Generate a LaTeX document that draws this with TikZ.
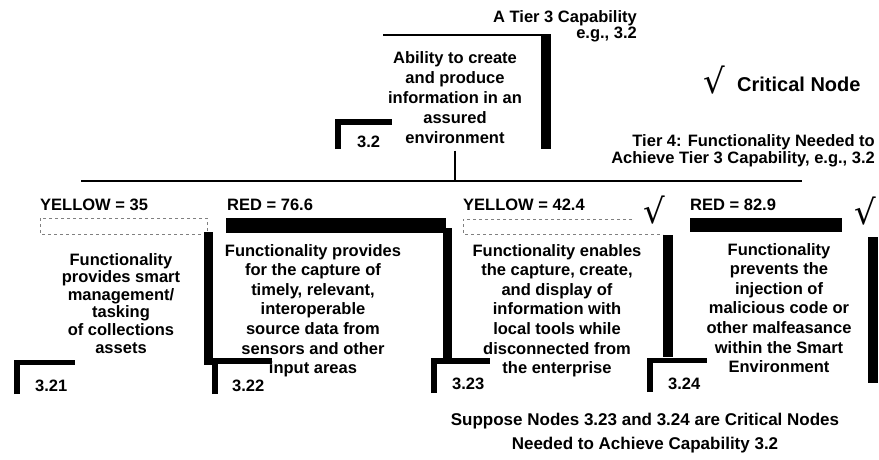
\documentclass[tikz,border=0pt]{standalone}
\usepackage{fontspec}
\setmainfont{Liberation Sans}
\newfontfamily\radfont{DejaVu Sans}
\tikzset{
  body/.style={font=\fontsize{16.5}{19.6}\selectfont\bfseries, align=center, anchor=north, inner sep=0pt},
  lbl/.style={font=\fontsize{16.5}{19.6}\selectfont\bfseries, anchor=base west, inner sep=0pt},
  tick/.style={font=\fontsize{34}{34}\selectfont\radfont, inner sep=0pt},
  bar/.style={fill=black},
  lite/.style={draw=black!50, dashed, line width=0.6pt},
  brk/.style={line width=5.5pt},
}
\begin{document}
\begin{tikzpicture}[x=1pt,y=-1pt]
\useasboundingbox (0,0) rectangle (879,459);
\node[lbl, anchor=base east] (t3) at (637,22) {A Tier 3 Capability};
\node[lbl, anchor=base east] (t3eg) at (637,38) {e.g., 3.2};
\draw[line width=2pt] (383,35) -- (546,35);
\fill[bar] (541,34) rectangle (551,149);
\draw[brk] (338,149) -- (338,122) -- (392,122);
\node[lbl] (n32) at (357,147) {3.2};
\node[body, font=\fontsize{16.5}{20}\selectfont\bfseries] (cap) at (455,51) {Ability to create\\and produce\\information in an\\assured\\environment};
\node[tick] (crit) at (714,80) {√};
\node[lbl, font=\fontsize{20}{24}\selectfont\bfseries] (critlbl) at (737,91) {Critical Node};
\node[lbl, font=\fontsize{16.5}{17}\selectfont\bfseries, align=right, anchor=north east] (t4) at (875,134) {Tier 4: Functionality Needed to\\Achieve Tier 3 Capability, e.g., 3.2};
\coordinate (busL) at (81,181);
\coordinate (busR) at (802,181);
\draw[line width=1.2pt] (busL) -- (busR);
\draw[line width=1.2pt] ([yshift=-7pt]cap.south) -- (cap.south |- busL);
\node[lbl] (y1) at (40,210) {YELLOW = 35};
\draw[lite] (40,218) rectangle (207,234);
\fill[bar] (204,232) rectangle (213,365);
\draw[brk] (17,394) -- (17,362.5) -- (75,362.5);
\node[lbl] (n321) at (35,391) {3.21};
\node[body, font=\fontsize{16.5}{17.6}\selectfont\bfseries] (f321) at (121,253) {Functionality\\provides smart\\management/\\tasking\\of collections\\assets};
\node[lbl] (r2) at (227,210) {RED = 76.6};
\fill[bar] (226,218) rectangle (446,233);
\fill[bar] (443,228) rectangle (452,360);
\draw[brk] (215,394) -- (215,361) -- (272,361);
\node[lbl] (n322) at (232,391) {3.22};
\node[body] (f322) at (313,244) {Functionality provides\\for the capture of\\timely, relevant,\\interoperable\\source data from\\sensors and other\\input areas};
\node[lbl] (y3) at (463,210) {YELLOW = 42.4};
\draw[lite] (632,219) -- (463,219) -- (463,234) -- (663,234);
\node[tick] (c3) at (654,210) {√};
\fill[bar] (663,235) rectangle (673,357);
\draw[brk] (434,393) -- (434,361) -- (490,361);
\node[lbl] (n323) at (452,389) {3.23};
\node[body] (f323) at (557,244) {Functionality enables\\the capture, create,\\and display of\\information with\\local tools while\\disconnected from\\the enterprise};
\node[lbl] (r4) at (690,210) {RED = 82.9};
\fill[bar] (690,218) rectangle (842,232);
\node[tick] (c4) at (865,211) {√};
\fill[bar] (868,237) rectangle (878,383);
\draw[brk] (650,392) -- (650,360.5) -- (707,360.5);
\node[lbl] (n324) at (668,389) {3.24};
\node[body] (f324) at (779,243) {Functionality\\prevents the\\injection of\\malicious code or\\other malfeasance\\within the Smart\\Environment};
\node[body, font=\fontsize{17}{24}\selectfont\bfseries] (note) at (645,413) {Suppose Nodes 3.23 and 3.24 are Critical Nodes\\Needed to Achieve Capability 3.2};
\end{tikzpicture}
\end{document}
